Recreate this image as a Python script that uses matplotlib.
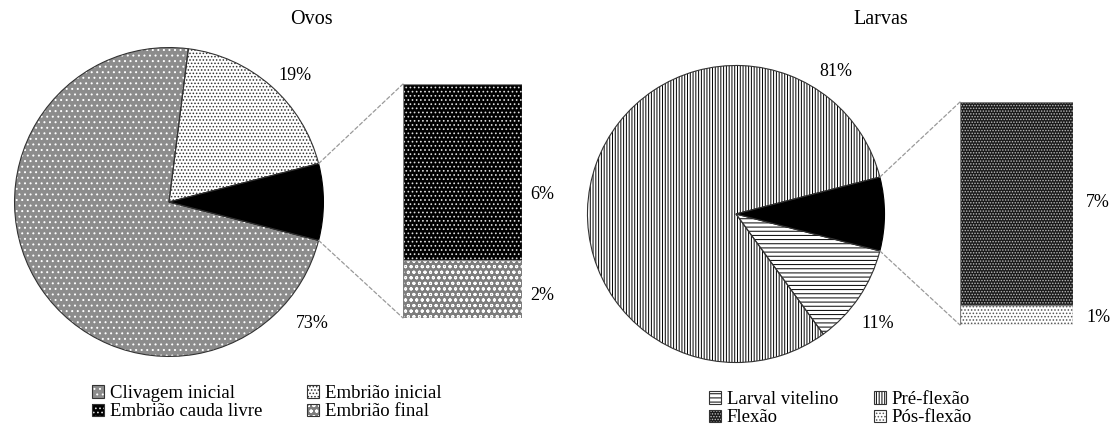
import numpy as np
import matplotlib
matplotlib.use('Agg')
import matplotlib.pyplot as plt
from matplotlib.patches import ConnectionPatch, Patch, Wedge
from matplotlib.legend_handler import HandlerTuple

plt.rcParams['font.family'] = ['Liberation Serif', 'DejaVu Serif']
plt.rcParams['hatch.linewidth'] = 0.7

# ---------------- data ----------------
ovos_title = 'Ovos'
ovos_cats = ['Clivagem inicial', 'Embrião inicial', 'Embrião cauda livre', 'Embrião final']
ovos_vals = [73, 19, 6, 2]          # first two in the pie, the rest in the bar

larvas_title = 'Larvas'
larvas_cats = ['Larval vitelino', 'Pré-flexão', 'Flexão', 'Pós-flexão']
larvas_vals = [11, 81, 7.3, 0.7]

# ---------------- styles ----------------
# (facecolor, hatchcolor, hatch)
ovos_styles = [('#8c8c8c', 'white', '...'),
               ('white', '#333333', '.....'),
               ('black', '#dddddd', '....'),
               ('#7d7d7d', 'white', 'ooo')]
larvas_styles = [('white', 'black', '----'),
                 ('white', 'black', '||||||'),
                 ('#1a1a1a', '#bbbbbb', '......'),
                 ('white', '#555555', '.....')]

W, H = 1116, 430
fig = plt.figure(figsize=(W / 100, H / 100), dpi=100)


def px(x, y):
    return x / W, 1 - y / H


def axes_px(x0, y0, x1, y1):
    a = fig.add_axes([x0 / W, 1 - y1 / H, (x1 - x0) / W, (y1 - y0) / H])
    a.axis('off')
    return a


def pie_of_bar(vals, styles, pie_box, bar_box, label_pos):
    pie_vals = vals[:2] + [sum(vals[2:])]
    total = float(sum(pie_vals))
    half = pie_vals[2] / total * 180.0

    ax = axes_px(*pie_box)
    wedges, _ = ax.pie(pie_vals, startangle=-half, counterclock=False, radius=1,
                       wedgeprops=dict(linewidth=0.8, edgecolor='black'))
    for w, (fc, hc, hatch) in zip(wedges[:2], styles[:2]):
        w.set_facecolor(fc)
        w.set_edgecolor(hc)
        w.set_linewidth(0)
        w.set_hatch(hatch)
        ax.add_patch(Wedge(w.center, w.r, w.theta1, w.theta2,
                           fill=False, edgecolor='#333333', lw=0.8))
    wedges[2].set_facecolor('black')
    ax.set_xlim(-1.01, 1.01)
    ax.set_ylim(-1.01, 1.01)

    bx = axes_px(*bar_box)
    bar_vals = vals[2:][::-1]
    bar_styles = styles[2:][::-1]
    bottom = 0
    for v, (fc, hc, hatch) in zip(bar_vals, bar_styles):
        bx.bar(0, v, width=1, bottom=bottom, facecolor=fc, edgecolor=hc, hatch=hatch, lw=0)
        bx.bar(0, v, width=1, bottom=bottom, fill=False, edgecolor='#808080', lw=0.9)
        bottom += v
    bx.set_xlim(-0.5, 0.5)
    bx.set_ylim(0, bottom)

    a = np.deg2rad(half)
    for ang, yb in [(a, bottom), (-a, 0)]:
        con = ConnectionPatch(xyA=(np.cos(ang), np.sin(ang)), coordsA=ax.transData,
                              xyB=(-0.5, yb), coordsB=bx.transData,
                              linestyle=(0, (3, 2)), color='#9a9a9a', lw=0.9)
        fig.add_artist(con)

    for v, (x, y) in zip(vals, label_pos):
        fig.text(*px(x, y), '%d%%' % round(v), fontsize=13, ha='center', va='center')

    handles = []
    for fc, hc, hatch in styles:
        handles.append((Patch(facecolor=fc, edgecolor=hc, hatch=hatch, lw=0),
                        Patch(fill=False, edgecolor='#333333', lw=0.8)))
    return handles


h_ovos = pie_of_bar(ovos_vals, ovos_styles, (13, 46, 325, 358), (403, 84, 522, 318),
                    [(312, 323), (295, 75), (542, 195), (542, 296)])
h_larvas = pie_of_bar(larvas_vals, larvas_styles, (586, 64, 886, 364), (960, 102, 1073, 325),
                      [(878, 323), (836, 72), (1098, 202), (1098, 318)])

fig.text(*px(311, 20), ovos_title, fontsize=14.5, ha='center', va='center')
fig.text(*px(881, 20), larvas_title, fontsize=14.5, ha='center', va='center')

order = [0, 2, 1, 3]
leg_kw = dict(handler_map={tuple: HandlerTuple(ndivide=1, pad=0)},
              loc='upper left', ncol=2, frameon=False, fontsize=13.5,
              handlelength=0.65, handleheight=0.65, handletextpad=0.3,
              labelspacing=0.08, borderpad=0, borderaxespad=0)
fig.legend([h_ovos[i] for i in order], [ovos_cats[i] for i in order],
           bbox_to_anchor=px(92, 385), columnspacing=2.4, **leg_kw)
fig.legend([h_larvas[i] for i in order], [larvas_cats[i] for i in order],
           bbox_to_anchor=px(709, 391), columnspacing=1.9, **leg_kw)

fig.savefig('out.png', dpi=100)
